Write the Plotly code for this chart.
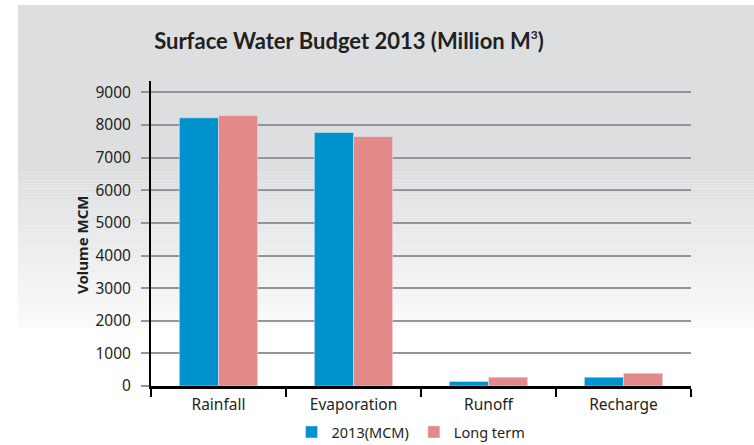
import plotly.graph_objects as go

# Surface water budget 2013 vs long term (million m3)
categories = ["Rainfall", "Evaporation", "Runoff", "Recharge"]
mcm_2013 = [8220, 7770, 140, 270]
long_term = [8290, 7650, 270, 390]

BLUE = "#0092cf"
PINK = "#e3898a"

fig = go.Figure()
fig.add_trace(go.Bar(x=categories, y=mcm_2013, name="2013(MCM)", marker_color=BLUE))
fig.add_trace(go.Bar(x=categories, y=long_term, name="Long term", marker_color=PINK))

# plot area in pixels: x 151..691, y 81..386
L, R, T, B = 151, 63, 81, 59
W, H = 754, 445
pw, ph = W - L - R, H - T - B


def px_x(p):
    return (p - L) / pw


def px_y(p):
    return (H - B - p) / ph


# grey backdrop fading to white towards the bottom
shapes = []
top, solid_end, fade_end = 5, 170, 328
shapes.append(dict(type="rect", xref="paper", yref="paper", layer="below",
                   x0=px_x(18), x1=px_x(754), y0=px_y(solid_end), y1=px_y(top),
                   fillcolor="rgb(221,222,224)", line_width=0))
n = 60
for i in range(n):
    y0 = solid_end + (fade_end - solid_end) * i / n
    y1 = solid_end + (fade_end - solid_end) * (i + 1) / n
    t = (i + 0.5) / n
    c = [int(a + (b - a) * t) for a, b in zip((221, 222, 224), (251, 251, 251))]
    shapes.append(dict(type="rect", xref="paper", yref="paper", layer="below",
                       x0=px_x(18), x1=px_x(754), y0=px_y(y1), y1=px_y(y0),
                       fillcolor=f"rgb({c[0]},{c[1]},{c[2]})", line_width=0))

fig.update_layout(
    width=W, height=H,
    margin=dict(l=L, r=R, t=T, b=B, autoexpand=False),
    paper_bgcolor="white",
    plot_bgcolor="rgba(0,0,0,0)",
    shapes=shapes,
    barmode="group",
    bargap=0.42,
    bargroupgap=0,
    font=dict(family="Noto Sans", size=15.5, color="#231f20"),
    title=dict(text="<b>Surface Water Budget 2013 (Million M<sup><span style='font-size:12px'>3</span></sup>)</b>",
               xref="paper", x=px_x(349), xanchor="center", y=1 - 41 / H, yanchor="middle",
               font=dict(family="Lato", size=22, color="#231f20")),
    legend=dict(orientation="h", x=px_x(411), xanchor="center", y=px_y(432), yanchor="middle",
                font=dict(size=14.5), bgcolor="rgba(0,0,0,0)",
                itemwidth=30, tracegroupgap=0),
    xaxis=dict(showline=True, linecolor="black", linewidth=2.5, automargin=False,
               ticks="outside", tickson="boundaries", ticklen=8, tickwidth=2, tickcolor="black",
               showgrid=False, ticklabelstandoff=3),
    yaxis=dict(range=[0, 9350], dtick=1000, showline=True, linecolor="black", linewidth=2,
               showgrid=True, gridcolor="#939598", gridwidth=2, automargin=False,
               ticks="outside", ticklen=8, tickwidth=2, tickcolor="#939598",
               zeroline=False, ticklabelstandoff=7),
    annotations=[dict(text="<b>Volume MCM</b>", textangle=-90, xref="paper", yref="paper",
                      x=px_x(82), y=px_y(245), xanchor="center", yanchor="middle",
                      showarrow=False, font=dict(size=15))],
)

fig.write_html("out.html", config={"displayModeBar": False},
               post_script="document.body.style.margin='0';")
